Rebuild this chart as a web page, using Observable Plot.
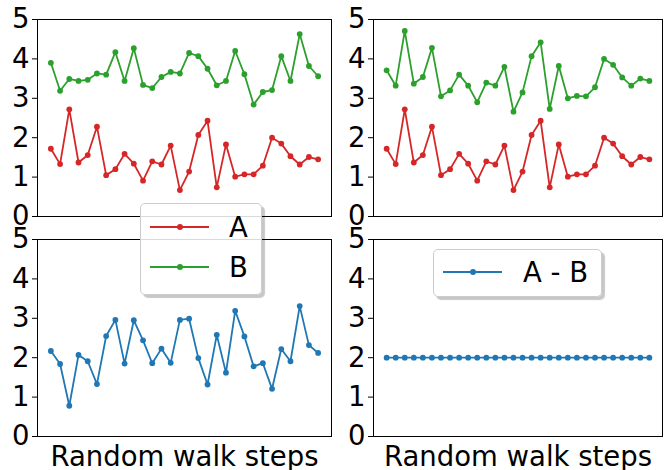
<!DOCTYPE html>
<html>
<head>
<meta charset="utf-8">
<script src="https://cdn.jsdelivr.net/npm/d3@7"></script>
<script src="https://cdn.jsdelivr.net/npm/@observablehq/plot@0.6"></script>
<style>
  html, body { margin: 0; padding: 0; background: #fff; }
  #fig { position: relative; width: 671px; height: 470px; overflow: hidden; font-family: "DejaVu Sans", sans-serif; }
  .panel { position: absolute; }
  .panel svg { overflow: visible; display: block; }
  .legend { position: absolute; box-sizing: border-box; border: 1px solid #cccccc; border-radius: 5px;
            background: rgba(255,255,255,0.85); box-shadow: 3px 3px 1px rgba(0,0,0,0.22); }
  .lg-line { position: absolute; height: 2px; }
  .lg-dot { position: absolute; width: 6px; height: 6px; border-radius: 50%; }
  .lg-text { position: absolute; font-size: 27.5px; line-height: 1; color: #000; white-space: pre; }
</style>
</head>
<body>
<div id="fig"></div>
<script>
// ---- data ----
const steps = [0,1,2,3,4,5,6,7,8,9,10,11,12,13,14,15,16,17,18,19,20,21,22,23,24,25,26,27,28,29];
const seriesA = [1.72,1.33,2.72,1.37,1.56,2.28,1.05,1.20,1.59,1.34,0.91,1.40,1.32,1.80,0.67,1.14,2.07,2.43,0.74,1.83,1.01,1.07,1.07,1.29,2.00,1.85,1.53,1.32,1.51,1.45];
const seriesB = [3.90,3.19,3.49,3.44,3.47,3.63,3.60,4.17,3.44,4.27,3.34,3.26,3.54,3.67,3.63,4.15,4.07,3.75,3.33,3.44,4.20,3.61,2.84,3.16,3.21,4.07,3.44,4.63,3.82,3.56];
const seriesBshift = [3.71,3.32,4.71,3.37,3.54,4.28,3.05,3.20,3.60,3.32,2.90,3.40,3.32,3.80,2.66,3.15,4.07,4.42,2.73,3.82,3.00,3.06,3.05,3.28,4.00,3.85,3.53,3.32,3.50,3.44];
const seriesDiff = [2.17,1.84,0.78,2.07,1.91,1.33,2.55,2.96,1.85,2.95,2.44,1.86,2.23,1.87,2.96,2.99,1.99,1.32,2.58,1.62,3.19,2.54,1.78,1.86,1.21,2.22,1.91,3.31,2.32,2.12];
const seriesDiffShift = [2,2,2,2,2,2,2,2,2,2,2,2,2,2,2,2,2,2,2,2,2,2,2,2,2,2,2,2,2,2];
const yTicks = [0,1,2,3,4,5];
const xLabel = "Random walk steps";
const colA = "#d62728", colB = "#2ca02c", colD = "#1f77b4";
const FS = 27.5;

function rows(vals) { return steps.map((s, i) => ({step: s, value: vals[i]})); }

function panel({left, top, width, height, margins, series, label}) {
  const [mt, mr, mb, ml] = margins;
  const marks = [
    Plot.axisY({ticks: yTicks, tickSize: 5, tickPadding: 3, fontSize: FS, label: null, tickFormat: d => String(d)})
  ];
  for (const s of series) {
    marks.push(Plot.line(rows(s.values), {x: "step", y: "value", stroke: s.color, strokeWidth: 1.8}));
    marks.push(Plot.dot(rows(s.values), {x: "step", y: "value", fill: s.color, r: 2.9}));
  }
  marks.push(Plot.frame({stroke: "black", strokeWidth: 1}));
  if (label) {
    marks.push(Plot.text([label], {text: d => d, frameAnchor: "bottom", lineAnchor: "bottom", dy: 29, fontSize: FS, fill: "black"}));
  }
  const svg = Plot.plot({
    width, height,
    marginTop: mt, marginRight: mr, marginBottom: mb, marginLeft: ml,
    style: {fontFamily: "DejaVu Sans", fontSize: FS + "px", color: "black", background: "transparent", overflow: "visible"},
    x: {domain: [-1.45, 30.45], axis: null},
    y: {domain: [0, 5], axis: null},
    marks
  });
  const div = document.createElement("div");
  div.className = "panel";
  div.style.left = left + "px";
  div.style.top = top + "px";
  div.appendChild(svg);
  document.getElementById("fig").appendChild(div);
}

panel({left: 0, top: 0, width: 340, height: 230, margins: [19, 9, 14, 37],
       series: [{values: seriesA, color: colA}, {values: seriesB, color: colB}]});
panel({left: 336, top: 0, width: 335, height: 230, margins: [19, 9, 14, 37],
       series: [{values: seriesA, color: colA}, {values: seriesBshift, color: colB}]});
panel({left: 0, top: 230, width: 340, height: 240, margins: [9, 9, 34, 37],
       series: [{values: seriesDiff, color: colD}], label: xLabel});
panel({left: 336, top: 230, width: 335, height: 240, margins: [9, 9, 34, 37],
       series: [{values: seriesDiffShift, color: colD}], label: xLabel});

// ---- legends ----
function legend({left, top, width, height, entries}) {
  const fig = document.getElementById("fig");
  const box = document.createElement("div");
  box.className = "legend";
  Object.assign(box.style, {left: left + "px", top: top + "px", width: width + "px", height: height + "px"});
  for (const e of entries) {
    const ln = document.createElement("div");
    ln.className = "lg-line";
    Object.assign(ln.style, {left: "9px", top: (e.y - 1) + "px", width: "59px", background: e.color});
    const dot = document.createElement("div");
    dot.className = "lg-dot";
    Object.assign(dot.style, {left: "35.5px", top: (e.y - 3) + "px", background: e.color});
    const tx = document.createElement("div");
    tx.className = "lg-text";
    tx.textContent = e.label;
    Object.assign(tx.style, {left: e.tx + "px", top: (e.base - 23) + "px"});
    box.append(ln, dot, tx);
  }
  fig.appendChild(box);
}
legend({left: 140, top: 203, width: 122, height: 92, entries: [
  {label: "A", color: colA, y: 23, tx: 88, base: 33},
  {label: "B", color: colB, y: 63, tx: 88, base: 73}
]});
legend({left: 433, top: 249, width: 169, height: 48, entries: [
  {label: "A - B", color: colD, y: 22, tx: 89, base: 32}
]});
</script>
</body>
</html>
